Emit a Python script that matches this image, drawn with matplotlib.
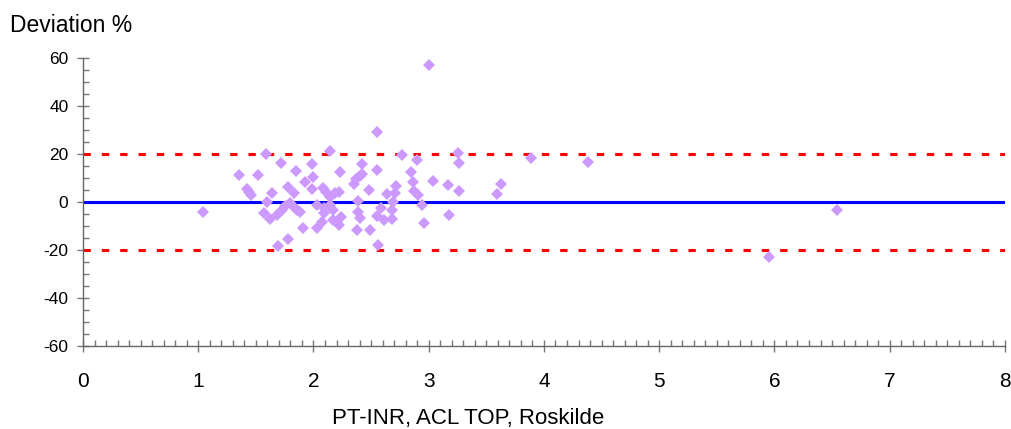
import matplotlib
matplotlib.use('Agg')
import matplotlib.pyplot as plt
from matplotlib.ticker import MultipleLocator

plt.rcParams['font.family'] = ['Liberation Sans', 'DejaVu Sans']
plt.rcParams['axes.unicode_minus'] = False

# PT-INR (ACL TOP) and deviation in %
inr = [1.04, 1.35, 1.42, 1.44, 1.46, 1.52, 1.59, 1.57, 1.60, 1.62,
       1.64, 1.68, 1.69, 1.72, 1.73, 1.75, 1.78, 1.78, 1.80, 1.83,
       1.83, 1.85, 1.86, 1.88, 1.91, 1.93, 1.99, 1.99, 2.00, 2.03,
       2.03, 2.08, 2.09, 2.07, 2.09, 2.11, 2.14, 2.14, 2.14, 2.17,
       2.17, 2.19, 2.22, 2.22, 2.23, 2.24, 2.35, 2.37, 2.40, 2.42,
       2.42, 2.39, 2.39, 2.40, 2.38, 2.48, 2.49, 2.55, 2.55, 2.55,
       2.56, 2.59, 2.61, 2.64, 2.68, 2.68, 2.69, 2.71, 2.72, 2.77,
       2.85, 2.86, 2.87, 2.90, 2.91, 2.94, 2.96, 3.00, 3.04, 3.17,
       3.18, 3.25, 3.26, 3.26, 3.59, 3.63, 3.89, 4.38, 5.95, 6.54]
deviation = [-4.3, 11.2, 5.3, 4.3, 2.9, 11.2, 20.0, -4.7, 0.1, -7.2,
             3.9, -5.4, -18.3, 16.4, -3.3, -1.5, 6.4, -15.4, -0.6, 3.6,
             -2.0, 13.0, -3.3, -4.0, -11.0, 8.2, 15.8, 5.3, 10.3, -1.3,
             -11.0, 6.0, -4.7, -8.2, -2.6, 4.3, 21.4, 2.2, -1.3, -3.3,
             -7.5, 3.6, 4.3, -9.6, 12.4, -6.1, 7.5, 9.5, 10.8, 11.5,
             15.8, 0.5, -4.0, -6.8, -11.7, 5.0, -11.7, 29.3, 13.3, -6.0,
             -18.0, -2.6, -7.5, 3.2, -3.3, -7.1, 0.1, 3.6, 6.8, 19.6,
             12.6, 8.5, 4.7, 17.5, 2.9, -1.3, -8.6, 57.0, 8.8, 7.1,
             -5.4, 20.3, 16.4, 4.7, 3.2, 7.5, 18.5, 16.7, -23.0, -3.3]

limit = 20
x_range = [0, 8]

fig = plt.figure(figsize=(10.12, 4.29), dpi=100)
ax = fig.add_axes([0.082, 0.1935, 0.911, 0.6713])

ax.plot(x_range, [0, 0], color='#0000FF', lw=2.2, zorder=2)
ax.plot(x_range, [limit, limit], color='#FF0000', lw=2.2, dashes=(2.4, 3.6), zorder=2)
ax.plot(x_range, [-limit, -limit], color='#FF0000', lw=2.2, dashes=(2.4, 3.6), zorder=2)
ax.plot(inr, deviation, linestyle='none', marker='D', ms=6.3,
        color='#CC99FF', markeredgewidth=0, zorder=3)

ax.set_xlim(0, 8)
ax.set_ylim(-60, 60)
ax.xaxis.set_major_locator(MultipleLocator(1))
ax.xaxis.set_minor_locator(MultipleLocator(0.1))
ax.yaxis.set_major_locator(MultipleLocator(20))
ax.yaxis.set_minor_locator(MultipleLocator(5))

for side in ['top', 'right']:
    ax.spines[side].set_visible(False)
for side in ['left', 'bottom']:
    ax.spines[side].set_color('#666666')
    ax.spines[side].set_linewidth(1)

ax.tick_params(axis='both', which='major', direction='inout', length=9,
               color='#777777', width=1)
ax.tick_params(axis='both', which='minor', direction='in', length=4,
               color='#777777', width=1)
ax.tick_params(axis='y', which='major', labelsize=12.5, pad=6)
ax.tick_params(axis='x', which='major', labelsize=15, pad=14)

fig.text(0.01, 0.94, 'Deviation %', fontsize=16.5, ha='left', va='center')
fig.text(468 / 1012, 0.025, 'PT-INR, ACL TOP, Roskilde', fontsize=16,
         ha='center', va='center')

fig.savefig('out.png', dpi=100)
plt.close(fig)
